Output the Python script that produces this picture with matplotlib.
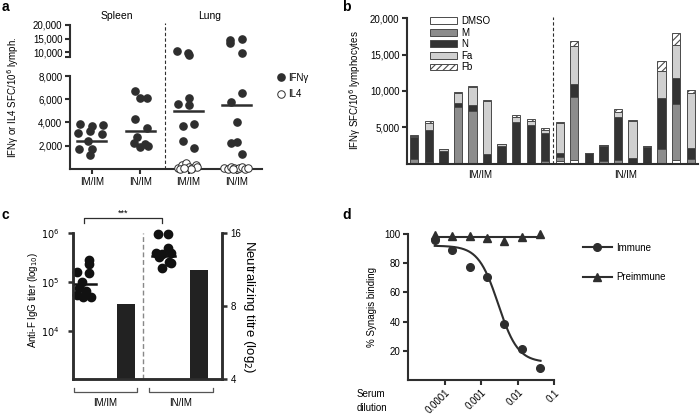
import numpy as np
import matplotlib.pyplot as plt
from matplotlib.patches import Patch
from matplotlib.lines import Line2D
from matplotlib.ticker import FuncFormatter, NullLocator

plt.rcParams['font.family'] = ['Liberation Sans', 'DejaVu Sans']
plt.rcParams['font.size'] = 7
plt.rcParams['hatch.linewidth'] = 0.8

W, H = 700, 418
INK = '#2e2e2e'

# ---- panel a: ELISpot dots ----
a_groups = ['IM/IM', 'IN/IM', 'IM/IM', 'IN/IM']
ifn_spleen_imim = [3850, 3700, 3800, 3100, 3250, 3000, 2400, 1750, 1700, 1200]
ifn_spleen_imim_off = [-0.25, 0.0, 0.22, -0.28, -0.04, 0.2, -0.08, -0.26, 0.0, -0.05]
ifn_spleen_inim = [6740, 6140, 6140, 4330, 3500, 2720, 2210, 1920, 1980, 2150]
ifn_spleen_inim_off = [-0.1, 0.0, 0.14, -0.1, 0.14, -0.07, -0.14, 0.0, 0.17, 0.1]
ifn_lung_imim = [10300, 9800, 9000, 5560, 6080, 5500, 3700, 3840, 2440, 1780]
ifn_lung_imim_off = [-0.23, -0.01, 0.01, -0.22, 0.01, 0.01, -0.11, 0.11, -0.11, 0.12]
ifn_lung_inim = [14440, 13220, 14820, 9520, 6510, 5790, 4020, 2210, 2350, 1260]
ifn_lung_inim_off = [-0.14, -0.14, 0.1, 0.1, 0.1, -0.12, 0.0, -0.12, 0.0, 0.11]
il4_lung_imim = [60, 340, 490, 200, 60, 340, 200, 0, 0, 60]
il4_lung_imim_off = [-0.21, -0.13, -0.06, 0.01, 0.08, 0.15, 0.18, -0.17, 0.04, -0.1]
il4_lung_inim = [60, 0, 150, 100, 0, 60, 150, 0, 90, 30]
il4_lung_inim_off = [-0.26, -0.18, -0.12, -0.05, 0.0, 0.05, 0.1, 0.16, 0.22, -0.08]
a_means = [2430, 3300, 5020, 5500]

# ---- panel b: stacked bars per animal ----
b_groups = ['IM/IM', 'IN/IM']
b_layers = ['DMSO', 'M', 'N', 'Fa', 'Fb']
b_dmso = [0, 0, 0, 0, 0, 0, 0, 0, 0, 0, 300, 500, 0, 0, 0, 0, 0, 0, 450, 0]
b_m = [650, 200, 0, 7750, 7300, 0, 0, 0, 0, 300, 550, 8700, 0, 300, 500, 100, 0, 2000, 7700, 700]
b_n = [2950, 4400, 1800, 640, 770, 1300, 2450, 5770, 5320, 3870, 650, 1750, 1500, 2100, 5880, 700, 2300, 7000, 3580, 1400]
b_fa = [150, 1050, 150, 1300, 2440, 7360, 250, 600, 590, 460, 4050, 5280, 0, 160, 770, 5100, 170, 3750, 4580, 7670]
b_fb = [190, 220, 20, 220, 220, 100, 0, 310, 190, 230, 220, 690, 0, 0, 330, 100, 0, 1380, 1700, 370]

# ---- panel c: anti-F IgG and neutralizing titre ----
c_groups = ['IM/IM', 'IN/IM']
igg_imim = [2.8e5, 2.3e5, 1.6e5, 1.55e5, 1.0e5, 7.5e4, 6.5e4, 5.5e4, 5.0e4, 4.8e4]
igg_imim_off = [0.06, 0.06, -0.1, 0.06, -0.04, -0.08, 0.02, -0.1, 0.08, -0.02]
igg_inim = [9.7e5, 9.7e5, 5.0e5, 4.0e5, 3.8e5, 3.9e5, 3.2e5, 2.6e5, 1.9e5, 2.4e5]
igg_inim_off = [-0.07, 0.07, 0.07, -0.1, -0.02, 0.1, -0.06, 0.08, -0.02, 0.1]
igg_means = [9.2e4, 3.4e5]
neut_titre = [8.2, 11.3]

# ---- panel d: Synagis competition ----
dilution = [5.3e-5, 1.6e-4, 4.9e-4, 1.45e-3, 4.3e-3, 1.3e-2, 4.0e-2]
immune = [96, 89, 77.5, 70.5, 38.5, 21.5, 8]
preimmune = [99.5, 98.5, 98.8, 97.0, 95.0, 98.0, 100.0]
fit_top, fit_bottom, fit_ec50, fit_hill = 92.0, 12.0, 2.9e-3, 1.6
pre_fit = 98.2

fig = plt.figure(figsize=(7, 4.18), dpi=100)


def px_axes(x0, y0, x1, y1):
    return fig.add_axes([x0 / W, 1 - y1 / H, (x1 - x0) / W, (y1 - y0) / H])


def style(ax, sides=('left', 'bottom'), lw=1.5):
    for s in ['left', 'right', 'top', 'bottom']:
        ax.spines[s].set_visible(s in sides)
        ax.spines[s].set_linewidth(lw)
        ax.spines[s].set_color(INK)
    ax.tick_params(width=lw, length=3.5, color=INK, pad=2, labelsize=7)


def fx(x):
    return x / W


def fy(y):
    return 1 - y / H


comma = FuncFormatter(lambda v, p: '{:,.0f}'.format(v))

# ======== a ========
axa = px_axes(70, 76, 262, 169)
axu = px_axes(70, 25, 262, 57)
axu.patch.set_visible(False)
style(axa)
style(axu, sides=('left',))
for ax in (axa, axu):
    ax.set_xlim(-0.455, 3.52)
axa.set_ylim(0, 8000)
axu.set_ylim(8150, 20000)
axa.set_yticks([2000, 4000, 6000, 8000])
axa.yaxis.set_major_formatter(comma)
axu.set_yticks([8150, 10000, 15000, 20000])
axu.set_yticklabels(['', '10,000', '15,000', '20,000'])
axu.set_xticks([])
axa.set_xticks(range(4))
axa.set_xticklabels(a_groups)

ifn_sets = [(0, ifn_spleen_imim, ifn_spleen_imim_off), (1, ifn_spleen_inim, ifn_spleen_inim_off),
            (2, ifn_lung_imim, ifn_lung_imim_off), (3, ifn_lung_inim, ifn_lung_inim_off)]
for gx, vals, offs in ifn_sets:
    vals = np.array(vals)
    xs = gx + np.array(offs)
    lo = vals <= 8000
    axa.plot(xs[lo], vals[lo], 'o', color=INK, ms=5.2, mec=INK, clip_on=False, zorder=3)
    axu.plot(xs[~lo], vals[~lo], 'o', color=INK, ms=5.2, mec=INK, clip_on=False, zorder=3)
for gx, vals, offs in [(2, il4_lung_imim, il4_lung_imim_off), (3, il4_lung_inim, il4_lung_inim_off)]:
    axa.plot(gx + np.array(offs), vals, 'o', mfc='white', mec=INK, mew=0.7, ms=5.4,
             clip_on=False, zorder=4)
for gx, mv in enumerate(a_means):
    axa.plot([gx - 0.3, gx + 0.3], [mv, mv], color=INK, lw=1.8, zorder=5)
axa.axvline(1.52, ymin=0, ymax=(169 - 23) / 93, color=INK, lw=0.8, ls=(0, (3, 2)), clip_on=False)

fig.text(fx(117), fy(16), 'Spleen', ha='center', va='center', fontsize=7.5)
fig.text(fx(210), fy(16), 'Lung', ha='center', va='center', fontsize=7.5)
fig.text(fx(13), fy(97), 'IFNγ or IL4 SFC/10$^6$ lymph.', rotation=90, ha='center', va='center', fontsize=7)
axa.legend(handles=[Line2D([], [], marker='o', ls='', color=INK, ms=5.2, label='IFNγ'),
                    Line2D([], [], marker='o', ls='', mfc='white', mec=INK, mew=0.7, ms=5.4, label='IL4')],
           loc='center left', bbox_to_anchor=(fx(270), fy(86)), bbox_transform=fig.transFigure,
           frameon=False, handletextpad=0.2, labelspacing=0.7, borderpad=0, handlelength=1.2, fontsize=7)

# ======== b ========
axb = px_axes(407, 18.3, 698, 163.6)
style(axb)
axb.set_ylim(0, 20000)
axb.set_xlim(-0.5, 19.5)
axb.set_yticks([5000, 10000, 15000, 20000])
axb.yaxis.set_major_formatter(comma)
axb.set_xticks([])
b_colors = ['white', '#8c8c8c', '#333333', '#d0d0d0', 'white']
b_hatch = [None, None, None, None, '/////']
bx = np.arange(len(b_m))
bottom = np.zeros(len(b_m))
for name, vals, col, hat in zip(b_layers, [b_dmso, b_m, b_n, b_fa, b_fb], b_colors, b_hatch):
    vals = np.array(vals, dtype=float)
    axb.bar(bx, vals, 0.57, bottom=bottom, color=col, edgecolor='#4a4a4a', linewidth=0.7,
            hatch=hat, label=name)
    bottom += vals
axb.axvline(9.5, ymin=0, ymax=1.01, color=INK, lw=0.8, ls=(0, (3, 2)), clip_on=False)
axb.text(4.5, -0.078, b_groups[0], transform=axb.get_xaxis_transform(), ha='center', va='center')
axb.text(14.5, -0.078, b_groups[1], transform=axb.get_xaxis_transform(), ha='center', va='center')
fig.text(fx(355), fy(90), 'IFNγ SFC/10$^6$ lymphocytes', rotation=90, ha='center', va='center', fontsize=7)
hb = [Patch(facecolor=c, edgecolor='#4a4a4a', linewidth=0.7, hatch=h, label=n)
      for n, c, h in zip(b_layers, b_colors, b_hatch)]
axb.legend(handles=hb, loc='upper left', bbox_to_anchor=(fx(425), fy(11)), bbox_transform=fig.transFigure,
           frameon=False, handlelength=2.8, handleheight=0.7, labelspacing=0.17, handletextpad=0.4,
           borderpad=0, fontsize=7)

# ======== c ========
axc = px_axes(72.7, 233.3, 221.7, 379.3)
style(axc, sides=('left', 'bottom', 'right'), lw=1.8)
axc.set_yscale('log')
axc.set_ylim(1e3, 1e6)
axc.set_xlim(-0.43, 1.53)
axc.set_yticks([1e4, 1e5, 1e6])
axc.set_yticklabels(['$10^4$', '$10^5$', '$10^6$'])
axc.yaxis.set_minor_locator(NullLocator())
axc.tick_params(axis='y', pad=6)
axc.set_xticks([])
axc2 = axc.twinx()
style(axc2, sides=('left', 'bottom', 'right'), lw=1.8)
axc2.set_yscale('log', base=2)
axc2.set_ylim(4, 16)
axc2.set_yticks([4, 8, 16])
axc2.set_yticklabels(['4', '8', '16'])
axc2.yaxis.set_minor_locator(NullLocator())
axc2.tick_params(axis='y', pad=3)
axc2.bar([0.27, 1.23], np.array(neut_titre) - 4, 0.24, bottom=4, color='#222222', zorder=2)
axc.plot(-0.27 + np.array(igg_imim_off), igg_imim, 'o', color='#111111', ms=6, clip_on=False, zorder=3)
axc.plot(0.76 + np.array(igg_inim_off), igg_inim, 'o', color='#111111', ms=6, clip_on=False, zorder=3)
for gx, mv in zip([-0.27, 0.76], igg_means):
    axc.plot([gx - 0.15, gx + 0.15], [mv, mv], color='#111111', lw=1.8, zorder=4)
axc.axvline(0.5, color='#888888', lw=1.0, ls=(0, (3.5, 2)))
xt = axc.get_xaxis_transform()
axc.plot([-0.28, -0.28, 0.74, 0.74], [1.073, 1.103, 1.103, 1.073], color=INK, lw=0.9,
         transform=xt, clip_on=False)
axc.text(0.23, 1.135, '***', transform=xt, ha='center', va='center', fontsize=6.5)
for (x0, x1), lab in zip([(-0.41, 0.41), (0.57, 1.41)], c_groups):
    axc.plot([x0, x0, x1, x1], [-0.06, -0.085, -0.085, -0.06], color='#555555', lw=0.9,
             transform=xt, clip_on=False)
    axc.text((x0 + x1) / 2, -0.16, lab, transform=xt, ha='center', va='center', fontsize=7)
fig.text(fx(33), fy(300), 'Anti-F IgG titer (log$_{10}$)', rotation=90, ha='center', va='center', fontsize=7)
fig.text(fx(249), fy(307), 'Neutralizing titre (log$_2$)', rotation=270, ha='center', va='center', fontsize=9.5)

# ======== d ========
axd = px_axes(408.3, 234, 554.3, 379.9)
style(axd)
axd.set_xscale('log')
axd.set_xlim(1e-5, 0.1)
axd.set_ylim(0, 100)
axd.set_xticks([1e-4, 1e-3, 1e-2, 1e-1])
axd.set_xticklabels(['0.0001', '0.001', '0.01', '0.1'], rotation=45, ha='right', rotation_mode='anchor')
axd.xaxis.set_minor_locator(NullLocator())
axd.set_yticks([20, 40, 60, 80, 100])
xf = np.logspace(np.log10(dilution[0]), np.log10(dilution[-1] * 1.05), 200)
yf = fit_bottom + (fit_top - fit_bottom) / (1 + (xf / fit_ec50) ** fit_hill)
axd.plot(xf, yf, color=INK, lw=1.5)
axd.plot(dilution, immune, 'o', color=INK, ms=5.5, ls='', clip_on=False, zorder=3)
axd.plot([dilution[0], dilution[-1]], [pre_fit, pre_fit], color=INK, lw=1.5)
axd.plot(dilution, preimmune, '^', color=INK, ms=5.2, ls='', clip_on=False, zorder=3)
fig.text(fx(372), fy(307), '% Synagis binding', rotation=90, ha='center', va='center', fontsize=7)
fig.text(fx(357), fy(401), 'Serum\ndilution', ha='left', va='center', fontsize=7, linespacing=1.45)
axd.legend(handles=[Line2D([], [], marker='o', color=INK, lw=1.5, ms=5.5, label='Immune'),
                    Line2D([], [], marker='^', color=INK, lw=1.5, ms=5.2, label='Preimmune')],
           loc='upper left', bbox_to_anchor=(fx(578), fy(238)), bbox_transform=fig.transFigure,
           frameon=False, handlelength=3.0, labelspacing=2.0, handletextpad=0.4, borderpad=0, fontsize=7)

# panel letters
for lab, x, y in [('a', 2, 7), ('b', 342, 7), ('c', 2, 215), ('d', 342, 215)]:
    fig.text(fx(x), fy(y), lab, fontsize=10, fontweight='bold', ha='left', va='center')

fig.savefig('out.png', dpi=100)
